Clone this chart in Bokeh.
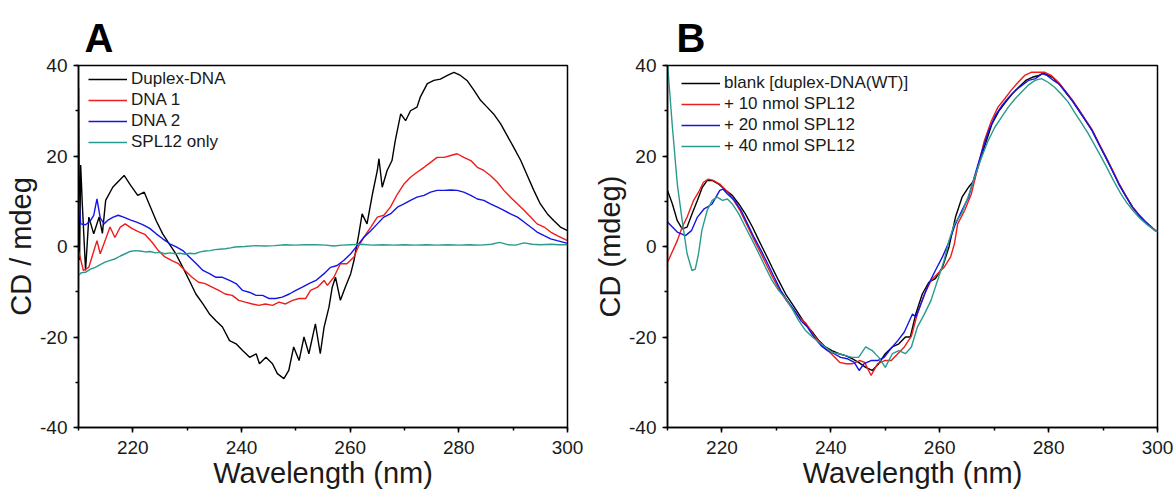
from bokeh.plotting import figure
from bokeh.models import Range1d, SingleIntervalTicker, Legend, LegendItem, Title, CustomJSTickFormatter
from bokeh.layouts import row
from bokeh.embed import file_html
from bokeh.resources import INLINE

# ---------------- Panel A data (wavelength nm, CD mdeg) ----------------
wl_a_duplex = [210.0, 210.2, 210.4, 210.7, 211.3, 211.9, 212.8, 213.8, 214.4, 215.0, 216.3, 217.5, 218.4, 219.6,
               220.9, 222.1, 223.0, 224.3, 225.5, 226.7, 227.9, 229.2, 230.4, 231.6, 232.9, 234.1, 235.3, 236.5,
               237.8, 239.0, 240.2, 241.5, 242.7, 243.3, 244.5, 245.7, 246.6, 247.8, 248.7, 249.6, 250.6, 251.5,
               252.4, 253.6, 254.5, 255.2, 256.1, 256.7, 257.3, 258.2, 259.1, 260.1, 260.7, 261.6, 262.2, 263.1,
               264.1, 265.0, 265.3, 265.9, 266.8, 267.7, 268.3, 269.3, 270.2, 271.1, 272.3, 272.9, 274.2, 275.4,
               276.6, 277.9, 279.1, 280.3, 281.5, 282.8, 284.0, 285.2, 286.4, 287.7, 288.9, 290.1, 291.4, 292.6,
               293.8, 295.0, 296.3, 297.5, 298.7, 300.0]
cd_a_duplex = [35.0, -3.0, 18.0, 9.4, -5.3, 6.5, 2.8, 6.5, 2.9, 10.2, 13.1, 14.6, 15.7, 13.5,
               11.3, 12.0, 9.4, 5.7, 2.8, 0.6, -1.6, -4.6, -7.5, -10.5, -12.7, -14.9, -16.4, -17.8,
               -20.8, -21.5, -23.0, -24.5, -23.7, -25.9, -24.5, -25.9, -28.1, -29.2, -27.4, -22.2, -25.2, -20.0,
               -23.7, -17.1, -23.7, -17.8, -13.4, -9.0, -6.8, -11.9, -9.0, -6.0, -3.1, 2.8, 7.2, 5.0,
               11.6, 16.8, 19.4, 13.1, 16.8, 19.0, 23.4, 29.3, 27.8, 30.0, 30.8, 33.0, 36.0, 36.7,
               37.0, 37.8, 38.5, 37.8, 36.7, 34.5, 32.3, 30.8, 29.3, 27.1, 24.5, 21.9, 19.0, 15.7,
               12.4, 9.4, 7.2, 5.7, 4.3, 3.5]

wl_a_dna1 = [210.0, 210.9, 211.9, 213.4, 214.0, 214.9, 215.8, 216.7, 217.7, 218.6, 219.8, 221.0, 222.3, 223.5,
             224.7, 225.9, 227.2, 228.4, 229.6, 230.9, 232.1, 233.3, 234.6, 235.8, 237.0, 238.3, 239.5, 240.7,
             242.0, 243.2, 244.4, 245.7, 246.9, 248.1, 249.4, 250.6, 251.8, 252.7, 254.0, 255.2, 255.8, 257.0,
             258.2, 259.4, 260.7, 261.6, 262.5, 263.8, 265.0, 266.2, 267.4, 268.7, 269.9, 271.1, 272.3, 273.6,
             274.8, 276.0, 277.3, 278.5, 279.7, 280.9, 282.2, 283.4, 284.6, 285.8, 287.1, 288.3, 289.5, 290.8,
             292.0, 293.2, 294.4, 295.7, 296.9, 298.1, 300.0]
cd_a_dna1 = [-0.9, -5.3, -4.6, 1.3, -1.6, 1.3, 4.3, 2.0, 4.3, 5.0, 4.0, 3.3, 2.6, 1.0,
             -0.9, -2.3, -3.1, -3.8, -5.3, -6.8, -7.9, -8.2, -9.0, -9.7, -10.5, -10.8, -11.9, -12.3,
             -12.7, -13.0, -12.7, -13.0, -12.3, -12.7, -11.9, -11.5, -11.5, -9.7, -9.0, -7.5, -8.6, -6.8,
             -3.8, -3.8, -2.3, 0.2, 2.0, 4.3, 6.5, 6.9, 8.7, 11.6, 13.8, 15.3, 16.4, 17.5,
             18.6, 19.7, 19.7, 20.1, 20.5, 19.7, 19.0, 17.5, 16.8, 15.7, 14.2, 12.4, 10.9, 9.4,
             8.0, 6.5, 5.0, 4.3, 3.2, 2.4, 1.3]

wl_a_dna2 = [210.0, 210.4, 211.3, 212.2, 212.8, 213.4, 214.0, 214.7, 215.5, 216.4, 217.3, 218.3, 219.5, 220.7,
             221.9, 223.1, 224.3, 225.5, 226.8, 228.0, 229.2, 230.4, 231.7, 232.9, 234.1, 235.3, 236.5, 237.8,
             239.0, 240.2, 241.4, 242.7, 243.9, 245.1, 246.3, 247.5, 248.8, 250.0, 251.2, 252.4, 253.7, 255.2,
             256.4, 257.6, 258.8, 260.1, 261.3, 262.5, 263.8, 265.0, 266.2, 267.4, 268.7, 269.9, 271.1, 272.3,
             273.6, 274.8, 276.0, 277.3, 278.5, 279.7, 280.9, 282.2, 283.4, 284.6, 285.8, 287.1, 288.3, 289.5,
             290.8, 292.0, 293.2, 294.4, 295.7, 296.9, 298.1, 300.0]
cd_a_dna2 = [11.6, 5.0, 4.8, 5.7, 6.9, 10.5, 6.3, 5.0, 5.9, 6.5, 6.9, 6.5, 5.9, 5.4,
             4.8, 4.0, 2.8, 1.7, 0.6, -0.1, -0.9, -2.3, -3.8, -5.3, -6.0, -6.8, -6.8, -7.5,
             -8.2, -9.7, -10.1, -10.8, -10.8, -11.5, -11.5, -11.2, -10.5, -9.7, -9.0, -8.2, -7.5, -6.0,
             -4.6, -4.2, -3.1, -1.6, 0.2, 2.0, 3.5, 5.0, 6.5, 7.2, 8.7, 9.4, 10.2, 10.9,
             11.3, 12.0, 12.4, 12.4, 12.5, 12.4, 12.0, 11.3, 10.5, 10.2, 9.4, 8.7, 8.0, 7.2,
             6.5, 5.4, 4.3, 3.2, 2.4, 1.7, 1.3, 0.7]

wl_a_spl12 = [210.0, 210.5, 211.3, 212.2, 213.1, 214.0, 215.0, 216.0, 216.8, 217.7, 218.6, 219.5, 220.4, 221.3,
              222.3, 223.2, 224.1, 225.0, 225.9, 226.8, 227.8, 228.7, 229.6, 230.5, 231.4, 232.4, 233.3, 234.2,
              235.1, 236.0, 237.0, 238.0, 238.8, 240.6, 242.5, 244.3, 246.1, 248.0, 249.8, 251.7, 253.5, 255.5,
              257.0, 258.5, 260.0, 262.0, 264.0, 266.0, 268.0, 270.0, 272.0, 274.0, 276.0, 278.0, 280.0, 282.0,
              284.0, 286.0, 287.5, 289.0, 290.5, 292.0, 293.5, 295.0, 297.0, 298.5, 300.0]
cd_a_spl12 = [-6.4, -5.8, -5.7, -5.0, -4.6, -4.0, -3.4, -3.0, -2.7, -2.1, -1.6, -1.1, -0.9, -1.0,
              -1.2, -1.1, -1.4, -1.3, -1.6, -1.4, -1.6, -1.5, -1.7, -1.5, -1.6, -1.2, -1.0, -0.9,
              -0.7, -0.6, -0.5, -0.3, -0.1, 0.0, 0.2, 0.1, 0.2, 0.4, 0.3, 0.4, 0.4, 0.3,
              0.1, 0.3, 0.4, 0.5, 0.3, 0.4, 0.3, 0.4, 0.3, 0.4, 0.3, 0.4, 0.3, 0.4,
              0.3, 0.5, 0.9, 0.4, 0.3, 0.8, 0.5, 0.4, 0.5, 0.4, 0.4]

# ---------------- Panel B data ----------------
wl_b_blank = [210.0, 210.9, 211.8, 212.7, 213.6, 214.5, 215.5, 216.4, 217.3, 218.2, 219.4, 220.7, 221.9, 223.1,
              224.3, 225.6, 226.8, 228.0, 229.2, 230.4, 231.7, 232.9, 234.1, 235.3, 236.6, 237.8, 239.0, 240.2,
              241.5, 242.7, 243.9, 245.1, 246.4, 247.6, 248.8, 250.0, 251.3, 252.5, 253.7, 254.6, 255.6, 256.8,
              258.0, 259.2, 260.5, 261.7, 262.9, 264.1, 265.3, 266.3, 267.2, 268.4, 269.6, 270.9, 272.1, 273.3,
              274.5, 275.8, 277.0, 278.2, 279.1, 280.7, 281.9, 283.1, 284.3, 285.6, 286.8, 288.0, 289.2, 290.5,
              291.7, 292.9, 294.1, 295.4, 296.6, 297.8, 299.6, 300.0]
cd_b_blank = [12.4, 9.4, 5.7, 3.9, 4.3, 7.2, 10.2, 13.1, 14.6, 14.6, 13.8, 12.4, 11.3, 9.4,
              7.2, 4.3, 1.3, -1.6, -4.6, -7.5, -10.5, -12.7, -14.9, -17.1, -18.9, -20.8, -22.2, -23.0,
              -23.7, -24.1, -24.8, -25.6, -26.7, -27.4, -25.9, -23.7, -22.2, -21.5, -20.0, -20.0, -14.9, -10.5,
              -7.9, -7.1, -4.6, -0.1, 6.5, 10.9, 13.1, 14.6, 18.3, 22.7, 27.1, 30.0, 31.9, 33.7,
              35.2, 36.7, 37.4, 37.8, 38.3, 37.4, 36.0, 34.1, 32.3, 30.0, 27.8, 25.6, 22.7, 19.7,
              16.8, 13.8, 11.3, 8.7, 6.9, 5.4, 3.5, 3.4]

wl_b_10 = [210.0, 211.8, 212.7, 213.6, 214.8, 215.7, 216.6, 217.5, 218.4, 219.6, 220.8, 222.0, 223.3, 224.5,
           225.7, 226.9, 228.1, 229.3, 230.6, 231.8, 233.0, 234.2, 235.5, 236.7, 237.9, 239.1, 240.4, 241.6,
           242.8, 244.0, 245.3, 246.2, 247.4, 248.6, 249.9, 251.1, 252.3, 253.5, 254.8, 255.9, 257.2, 258.4,
           259.6, 260.8, 262.0, 262.7, 263.3, 264.6, 265.8, 267.0, 268.2, 269.5, 270.7, 271.9, 273.1, 274.4,
           275.6, 276.8, 278.0, 279.3, 280.5, 281.9, 283.1, 284.3, 285.6, 286.8, 288.0, 289.2, 290.5, 291.7,
           292.9, 294.1, 295.4, 296.6, 297.8, 299.6, 300.0]
cd_b_10 = [-3.5, 1.3, 4.3, 6.5, 10.2, 12.0, 14.2, 14.9, 14.6, 13.8, 12.4, 10.5, 8.0, 5.0,
           2.0, -0.9, -3.8, -6.8, -9.7, -11.9, -13.8, -15.6, -17.1, -19.3, -21.1, -22.6, -24.1, -25.6,
           -25.9, -25.9, -25.2, -25.6, -28.5, -25.9, -25.2, -25.2, -23.7, -22.2, -19.8, -14.9, -10.5, -7.5,
           -6.0, -4.6, -2.3, 0.6, 5.0, 8.0, 11.6, 17.5, 23.4, 27.8, 30.8, 32.6, 34.5, 36.3,
           37.8, 38.5, 38.5, 38.5, 37.8, 36.2, 34.3, 32.5, 30.2, 28.0, 25.8, 22.9, 19.9, 17.0,
           14.0, 11.4, 8.8, 7.0, 5.5, 3.6, 3.4]

wl_b_20 = [210.0, 211.8, 213.3, 214.4, 215.5, 216.7, 217.3, 218.2, 219.6, 220.2, 221.0, 222.3, 223.5, 224.7,
           225.9, 227.2, 228.4, 229.6, 230.8, 232.0, 233.3, 234.5, 235.7, 236.9, 238.2, 239.4, 240.6, 241.8,
           243.0, 244.3, 245.2, 246.1, 247.4, 248.6, 249.8, 251.0, 252.3, 253.5, 255.0, 255.6, 256.8, 258.0,
           259.2, 260.5, 261.7, 262.9, 264.1, 265.3, 266.5, 267.8, 269.0, 270.2, 271.4, 272.7, 273.9, 275.1,
           276.3, 277.6, 278.8, 279.7, 280.9, 282.0, 283.1, 284.3, 285.6, 286.8, 288.0, 289.2, 290.5, 291.7,
           292.9, 294.1, 295.4, 296.6, 297.8, 299.6, 300.0]
cd_b_20 = [5.4, 3.2, 2.4, 3.5, 6.5, 8.3, 8.7, 9.4, 12.4, 12.7, 11.6, 10.2, 8.0, 5.0,
           2.0, -0.9, -3.8, -6.8, -9.7, -11.9, -14.1, -16.4, -17.8, -20.0, -21.9, -23.0, -23.7, -24.5,
           -24.8, -25.6, -27.4, -25.9, -25.2, -25.2, -24.5, -22.6, -20.8, -18.9, -14.9, -15.6, -11.9, -8.2,
           -5.3, -2.3, 1.0, 5.0, 8.0, 10.9, 16.0, 21.2, 25.6, 28.9, 31.1, 33.0, 34.5, 35.6,
           36.7, 37.1, 38.2, 37.8, 36.7, 35.8, 34.2, 32.3, 30.0, 27.8, 25.6, 22.7, 19.7, 16.8,
           13.8, 11.3, 8.7, 6.9, 5.4, 3.5, 3.4]

wl_b_40 = [210.0, 210.9, 211.8, 212.7, 213.6, 214.5, 215.1, 215.7, 216.3, 217.3, 218.2, 219.1, 220.1, 221.0,
           221.9, 223.1, 224.3, 225.6, 226.8, 228.0, 229.2, 230.4, 231.7, 232.9, 234.1, 235.3, 236.6, 237.8,
           239.0, 240.2, 241.5, 242.7, 243.9, 245.1, 246.4, 247.6, 248.8, 250.0, 251.3, 252.5, 253.7, 254.8,
           255.9, 257.2, 258.4, 259.6, 260.8, 261.7, 262.7, 264.0, 265.2, 266.4, 267.7, 268.9, 270.1, 271.3,
           272.6, 273.8, 275.0, 276.2, 277.5, 278.7, 279.9, 281.1, 282.3, 283.6, 284.8, 286.0, 287.2, 288.4,
           289.6, 290.8, 292.0, 293.2, 294.4, 295.6, 296.8, 298.0, 299.6, 300.0]
cd_b_40 = [40.5, 26.4, 13.8, 5.7, -1.6, -5.3, -5.0, -1.6, 3.5, 8.0, 10.2, 10.9, 10.2, 10.5,
           9.4, 7.2, 4.3, 1.3, -1.6, -4.6, -7.5, -9.7, -11.5, -13.8, -16.4, -18.5, -20.0, -21.1,
           -22.2, -23.4, -23.7, -24.1, -24.5, -24.5, -22.2, -23.0, -24.5, -26.7, -23.7, -23.0, -23.7, -22.2,
           -17.8, -14.9, -11.9, -7.5, -3.1, 1.3, 5.0, 7.2, 10.9, 15.3, 19.7, 23.4, 26.3, 28.5,
           30.8, 32.6, 34.1, 35.6, 36.7, 37.1, 36.3, 35.2, 33.7, 31.9, 29.6, 27.4, 25.1, 22.5,
           19.9, 17.2, 14.4, 11.8, 9.6, 7.8, 6.2, 4.9, 3.5, 3.3]

# ---------------- styling ----------------
FONT = "Liberation Sans"
C_BLACK = "#000000"
C_RED = "#ee1c1c"
C_BLUE = "#1414e6"
C_TEAL = "#2a9a8e"


def make_panel(letter, ylabel, series, names, width, left, right, title_offset, legend_xy):
    p = figure(width=width, height=495, x_range=Range1d(210, 300), y_range=Range1d(-40, 40),
               output_backend="svg", toolbar_location=None,
               min_border_left=left, min_border_right=right, min_border_top=65, min_border_bottom=68,
               background_fill_color="white", border_fill_color="white")
    p.title = Title(text=letter, text_font=FONT, text_font_size="40px", text_font_style="bold",
                    align="left", offset=title_offset, standoff=12, text_color="black")
    p.grid.visible = False
    p.outline_line_color = "black"
    p.outline_line_width = 1.5
    p.outline_line_alpha = 1.0

    p.xaxis.ticker = SingleIntervalTicker(interval=20, num_minor_ticks=2)
    p.yaxis.ticker = SingleIntervalTicker(interval=20, num_minor_ticks=2)
    for ax in (p.xaxis, p.yaxis):
        ax.formatter = CustomJSTickFormatter(code="return tick.toFixed(0);")
        ax.axis_line_width = 1.5
        ax.axis_line_color = "black"
        ax.major_tick_in = 0
        ax.major_tick_out = 5
        ax.minor_tick_in = 0
        ax.minor_tick_out = 3
        ax.major_tick_line_width = 1.5
        ax.minor_tick_line_width = 1.5
        ax.major_label_text_font = FONT
        ax.major_label_text_font_size = "19px"
        ax.major_label_text_color = "#1a1a1a"
        ax.axis_label_text_font = FONT
        ax.axis_label_text_font_size = "29px"
        ax.axis_label_text_font_style = "normal"
        ax.axis_label_text_color = "#1a1a1a"
        ax.axis_label_standoff = 0
    p.xaxis.major_label_standoff = 8
    p.yaxis.major_label_standoff = 6
    p.xaxis.axis_label = "Wavelength (nm)"
    p.yaxis.axis_label = ylabel

    items = []
    for (wl, cd, color), name in zip(series, names):
        r = p.line(wl, cd, line_color=color, line_width=1.4)
        items.append(LegendItem(label=name, renderers=[r]))
    leg = Legend(items=items, location=legend_xy, margin=0, padding=0, spacing=1,
                 glyph_width=39, glyph_height=20, label_height=20, label_standoff=4,
                 label_text_font=FONT, label_text_font_size="17px", label_text_color="#1a1a1a",
                 border_line_color=None, background_fill_alpha=0)
    p.add_layout(leg)
    return p


pa = make_panel("A", "CD / mdeg",
                [(wl_a_duplex, cd_a_duplex, C_BLACK), (wl_a_dna1, cd_a_dna1, C_RED),
                 (wl_a_dna2, cd_a_dna2, C_BLUE), (wl_a_spl12, cd_a_spl12, C_TEAL)],
                ["Duplex-DNA", "DNA 1", "DNA 2", "SPL12 only"],
                588, 78, 21, 6, (10, 275))
pb = make_panel("B", "CD (mdeg)",
                [(wl_b_blank, cd_b_blank, C_BLACK), (wl_b_10, cd_b_10, C_RED),
                 (wl_b_20, cd_b_20, C_BLUE), (wl_b_40, cd_b_40, C_TEAL)],
                ["blank [duplex-DNA(WT)]", "+ 10 nmol SPL12", "+ 20 nmol SPL12", "+ 40 nmol SPL12"],
                588, 79, 19, 9, (14, 271))

layout = row(pa, pb, spacing=0)
open("out.html", "w").write(file_html(layout, INLINE))
